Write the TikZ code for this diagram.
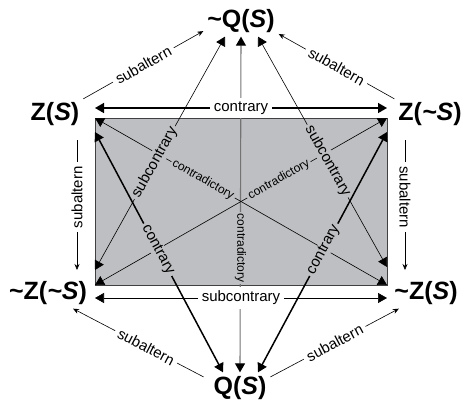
\documentclass[tikz,border=0pt]{standalone}
\usepackage{fontspec}
\setmainfont{Liberation Sans}
\usetikzlibrary{arrows.meta}
\definecolor{SquareGray}{HTML}{BEBFC2}

\begin{document}
\begin{tikzpicture}[
    x=1pt, y=-1pt,
    >={Triangle[length=9pt,width=10pt]},
    term/.style={font=\fontsize{25}{25}\selectfont\bfseries, inner sep=0pt, outer sep=4pt},
    square/.style={draw=black!75, line width=0.8pt, fill=SquareGray, minimum width=292pt, minimum height=167pt, inner sep=0pt, outer sep=0pt},
    thinline/.style={<->, line width=0.6pt},
    thickline/.style={<->, line width=1.5pt},
    subline/.style={-{Stealth[length=6pt,width=5pt]}, line width=0.6pt},
    lab/.style={font=\fontsize{15}{15}\selectfont, fill=white, inner sep=4pt},
    glab/.style={lab, fill=SquareGray, inner xsep=2.5pt, inner ysep=1pt},
    clab/.style={font=\fontsize{12}{12}\selectfont, fill=SquareGray, inner sep=2pt}
  ]
    \useasboundingbox (0,0) rectangle (464,410);

    % the six corners of the hexagon
    \node[term] (nq) at (241,21) {\char`\~Q(\textit{S})};
    \node[term] (zs) at (55,114.5) {Z(\textit{S})};
    \node[term] (zns) at (430,114.5) {Z(\textit{\char`\~S})};
    \node[term] (nzns) at (48,293) {\char`\~Z(\textit{\char`\~S})};
    \node[term] (nzs) at (426,293) {\char`\~Z(\textit{S})};
    \node[term] (qs) at (240,388) {Q(\textit{S})};

    % square of opposition
    \node[square] (sq) at (241,201.5) {};

    \draw[{Triangle[length=9pt,width=10pt,color=black]}-{Triangle[length=9pt,width=10pt,color=black]}, line width=1.1pt, draw=black!55]
      (nq.south) -- (qs.north) node[pos=0.63, clab, rotate=-90] {contradictory};
    \draw[thinline] (sq.north west) -- (sq.south east) node[pos=0.37, sloped, clab] {contradictory};
    \draw[thinline] (sq.north east) -- (sq.south west) node[pos=0.37, sloped, clab] {contradictory};

    \draw[thickline] ([yshift=10pt]sq.north west) -- ([yshift=10pt]sq.north east) node[midway, lab] {contrary};
    \draw[thinline] ([yshift=-13pt]sq.south west) -- ([yshift=-13pt]sq.south east) node[midway, lab] {subcontrary};

    \draw[thinline] ([xshift=-16pt]nq.south) -- ([yshift=15pt]sq.south west) node[pos=0.54, sloped, glab] {subcontrary};
    \draw[thinline] ([xshift=17pt]nq.south) -- ([yshift=18pt]sq.south east) node[pos=0.54, sloped, glab] {subcontrary};
    \draw[thickline] ([yshift=-14pt]sq.north west) -- ([xshift=-17pt]qs.north) node[pos=0.49, sloped, glab] {contrary};
    \draw[thickline] ([yshift=-14pt]sq.north east) -- ([xshift=18pt]qs.north) node[pos=0.49, sloped, glab] {contrary};

    % subalterns
    \draw[subline] (zs.north east) -- (nq.195) node[midway, sloped, lab] {subaltern};
    \draw[subline] (zns.north west) -- (nq.341) node[midway, sloped, lab] {subaltern};
    \draw[subline] ([xshift=-6pt]qs.160) -- (nzns.328) node[pos=0.44, sloped, lab] {subaltern};
    \draw[subline] (qs.20) -- (nzs.210) node[midway, sloped, lab] {subaltern};
    \draw[subline] ([xshift=-18pt,yshift=-22pt]sq.north west) -- ([xshift=-18pt,yshift=15pt]sq.south west)
      node[pos=0.44, lab, rotate=90] {subaltern};
    \draw[subline] ([xshift=18pt,yshift=-22pt]sq.north east) -- ([xshift=18pt,yshift=15pt]sq.south east)
      node[pos=0.44, lab, rotate=-90] {subaltern};
\end{tikzpicture}
\end{document}
